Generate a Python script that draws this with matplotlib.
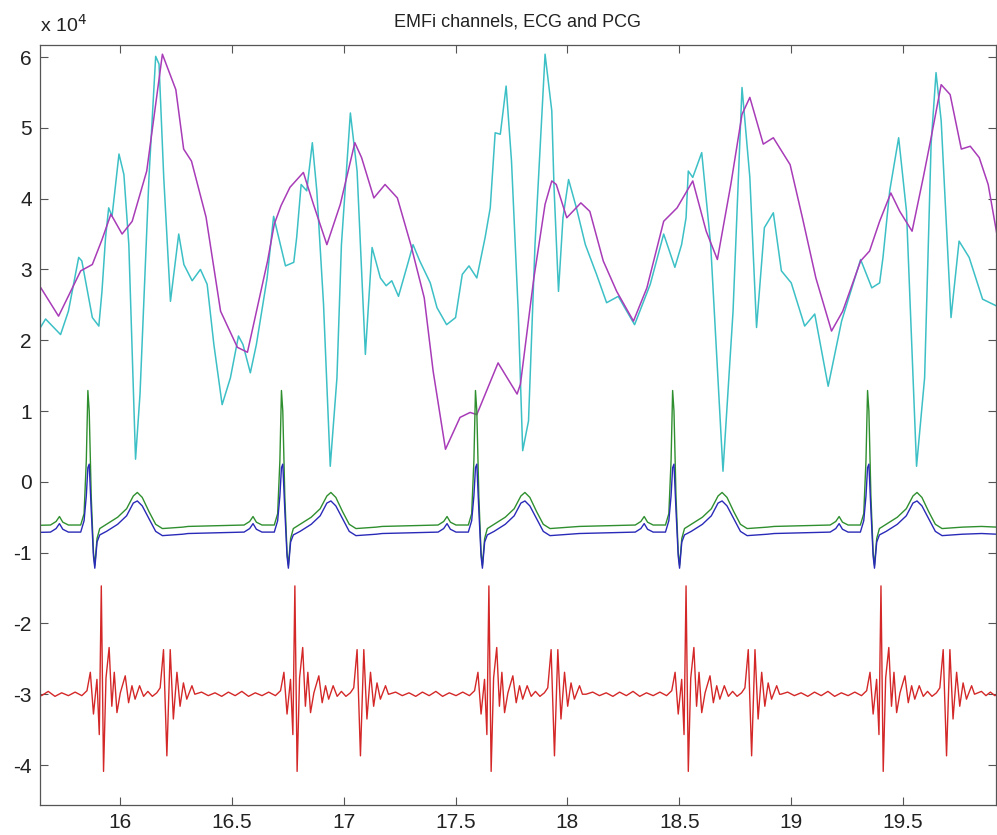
import numpy as np
import matplotlib
matplotlib.use("Agg")
import matplotlib.pyplot as plt
from matplotlib.ticker import FormatStrFormatter

plt.rcParams['font.family'] = ['Liberation Sans', 'DejaVu Sans']
plt.rcParams['axes.unicode_minus'] = False

# EMFi channel 1 (cyan), values in units of 1e4
emfi1_t = [15.645, 15.668, 15.735, 15.77, 15.816, 15.83, 15.877, 15.906, 15.92, 15.936,
           15.95, 15.965, 15.996, 16.018, 16.04, 16.07, 16.09, 16.13, 16.16, 16.175,
           16.196, 16.226, 16.263, 16.286, 16.323, 16.36, 16.39, 16.42, 16.457, 16.494,
           16.53, 16.55, 16.583, 16.61, 16.658, 16.687, 16.717, 16.74, 16.777, 16.79,
           16.81, 16.835, 16.86, 16.88, 16.91, 16.94, 16.97, 16.99, 17.03, 17.06,
           17.097, 17.127, 17.164, 17.19, 17.215, 17.245, 17.29, 17.31, 17.34, 17.387,
           17.417, 17.46, 17.50, 17.53, 17.56, 17.595, 17.632, 17.655, 17.677, 17.70,
           17.726, 17.75, 17.78, 17.80, 17.826, 17.855, 17.90, 17.93, 17.94, 17.96,
           17.98, 18.005, 18.04, 18.08, 18.13, 18.175, 18.227, 18.265, 18.30, 18.37,
           18.43, 18.48, 18.51, 18.53, 18.54, 18.56, 18.60, 18.64, 18.695, 18.74,
           18.78, 18.815, 18.845, 18.88, 18.92, 18.956, 19.00, 19.06, 19.105, 19.165,
           19.225, 19.31, 19.36, 19.395, 19.41, 19.44, 19.48, 19.515, 19.56, 19.596,
           19.625, 19.647, 19.67, 19.714, 19.75, 19.795, 19.855, 19.92]
emfi1_v = [2.18, 2.30, 2.08, 2.41, 3.17, 3.12, 2.32, 2.20, 2.69, 3.45,
           3.87, 3.75, 4.63, 4.34, 3.35, 0.32, 1.24, 4.30, 6.01, 5.90,
           4.30, 2.55, 3.50, 3.07, 2.84, 3.00, 2.79, 1.94, 1.09, 1.47,
           2.06, 1.94, 1.54, 1.94, 2.88, 3.75, 3.35, 3.05, 3.10, 3.45,
           4.20, 4.11, 4.79, 4.11, 2.51, 0.22, 1.47, 3.35, 5.21, 4.39,
           1.80, 3.31, 2.88, 2.77, 2.84, 2.62, 3.12, 3.35, 3.12, 2.81,
           2.46, 2.22, 2.32, 2.93, 3.05, 2.88, 3.45, 3.87, 4.93, 4.91,
           5.59, 4.53, 2.41, 0.44, 0.86, 3.35, 6.04, 5.24, 4.16, 2.69,
           3.73, 4.27, 3.87, 3.35, 2.93, 2.53, 2.62, 2.41, 2.22, 2.79,
           3.50, 3.03, 3.35, 3.73, 4.39, 4.30, 4.65, 3.35, 0.15, 2.41,
           5.57, 4.30, 2.18, 3.59, 3.80, 2.98, 2.81, 2.20, 2.37, 1.35,
           2.27, 3.14, 2.74, 2.81, 3.17, 4.11, 4.86, 3.82, 0.22, 1.47,
           4.77, 5.78, 5.10, 2.32, 3.40, 3.17, 2.58, 2.48]

# EMFi channel 2 (magenta)
emfi2_t = [15.645, 15.726, 15.825, 15.877, 15.92, 15.96, 16.01, 16.055, 16.12, 16.19,
           16.25, 16.285, 16.32, 16.385, 16.45, 16.525, 16.57, 16.66, 16.69, 16.72,
           16.76, 16.82, 16.865, 16.925, 16.985, 17.05, 17.08, 17.135, 17.185, 17.24,
           17.30, 17.36, 17.40, 17.455, 17.52, 17.565, 17.595, 17.69, 17.775, 17.79,
           17.835, 17.85, 17.90, 17.93, 17.95, 17.997, 18.06, 18.10, 18.16, 18.22,
           18.295, 18.355, 18.43, 18.49, 18.56, 18.62, 18.67, 18.73, 18.78, 18.815,
           18.875, 18.92, 18.995, 19.05, 19.11, 19.18, 19.23, 19.31, 19.35, 19.395,
           19.445, 19.485, 19.54, 19.59, 19.625, 19.67, 19.71, 19.76, 19.80, 19.84,
           19.88, 19.92]
emfi2_v = [2.75, 2.34, 2.98, 3.07, 3.42, 3.78, 3.50, 3.68, 4.39, 6.04,
           5.54, 4.70, 4.53, 3.74, 2.41, 1.90, 1.83, 3.12, 3.64, 3.90,
           4.16, 4.37, 3.92, 3.35, 3.92, 4.79, 4.58, 4.01, 4.20, 4.01,
           3.35, 2.60, 1.56, 0.46, 0.91, 0.98, 0.95, 1.68, 1.24, 1.38,
           2.51, 2.88, 3.92, 4.25, 4.20, 3.73, 3.94, 3.82, 3.12, 2.69,
           2.27, 2.74, 3.68, 3.87, 4.25, 3.54, 3.14, 4.20, 5.19, 5.43,
           4.77, 4.86, 4.48, 3.73, 2.88, 2.13, 2.41, 3.12, 3.26, 3.68,
           4.08, 3.82, 3.54, 4.30, 4.86, 5.61, 5.47, 4.70, 4.74, 4.58,
           4.20, 3.48]

# R-peak times of the ECG
r_times = [15.86, 16.725, 17.592, 18.473, 19.344]

# one ECG beat: time from R peak, lead 1 (green), lead 2 (blue)
ecg_dt = [-0.42, -0.30, -0.17, -0.145, -0.13, -0.115, -0.09, -0.035, -0.02, -0.01,
          -0.003, 0.003, 0.012, 0.022, 0.028, 0.038, 0.05, 0.08, 0.13, 0.17,
          0.20, 0.218, 0.24, 0.27, 0.30, 0.33, 0.42]
ecg1_v = [-0.63, -0.62, -0.61, -0.56, -0.49, -0.57, -0.61, -0.61, -0.45, 0.30,
          1.29, 1.00, -0.20, -1.00, -1.18, -0.80, -0.66, -0.60, -0.50, -0.38,
          -0.20, -0.15, -0.22, -0.42, -0.60, -0.66, -0.64]
ecg2_v = [-0.73, -0.72, -0.71, -0.66, -0.59, -0.67, -0.71, -0.71, -0.55, -0.20,
          0.20, 0.25, -0.40, -1.05, -1.22, -0.85, -0.75, -0.70, -0.60, -0.48,
          -0.30, -0.27, -0.34, -0.52, -0.70, -0.76, -0.74]
# flat stretch after the last beat, up to the right edge
ecg_tail_t = [19.85, 19.92]
ecg1_tail = [-0.63, -0.64]
ecg2_tail = [-0.73, -0.74]

# one PCG beat: time from R peak, value
pcg_dt = [-0.39, -0.36, -0.33, -0.30, -0.27, -0.24, -0.21, -0.18, -0.15, -0.12,
          -0.09, -0.06, -0.03, -0.007, 0.008, 0.022, 0.0375, 0.048, 0.057, 0.067,
          0.078, 0.092, 0.104, 0.115, 0.127, 0.142, 0.164, 0.179, 0.194, 0.208,
          0.228, 0.246, 0.265, 0.285, 0.305, 0.32, 0.335, 0.35, 0.365, 0.379,
          0.395, 0.409, 0.424, 0.439, 0.462, 0.475]
pcg_v = [-3.00, -2.97, -3.02, -2.98, -3.03, -2.97, -3.02, -2.96, -3.03, -2.98,
         -3.02, -2.97, -3.02, -2.95, -2.69, -3.28, -2.79, -3.57, -1.47, -4.09,
         -2.77, -2.34, -3.17, -2.69, -3.26, -2.98, -2.74, -3.12, -2.88, -3.07,
         -2.88, -3.03, -2.96, -3.03, -2.98, -2.91, -2.37, -3.87, -2.37, -3.35,
         -2.69, -3.17, -2.84, -3.07, -2.88, -3.00]
pcg_tail_t = [19.85, 19.87, 19.89, 19.91, 19.92]
pcg_tail = [-2.96, -3.02, -2.97, -3.02, -3.00]


def place_beats(dt, values, tail_t, tail_v):
    t_all, v_all = [], []
    for r in r_times:
        t_all.extend(r + np.asarray(dt))
        v_all.extend(values)
    t_all.extend(tail_t)
    v_all.extend(tail_v)
    return np.asarray(t_all), np.asarray(v_all)


ecg1_t, ecg1_y = place_beats(ecg_dt, ecg1_v, ecg_tail_t, ecg1_tail)
ecg2_t, ecg2_y = place_beats(ecg_dt, ecg2_v, ecg_tail_t, ecg2_tail)
pcg_t, pcg_y = place_beats(pcg_dt, pcg_v, pcg_tail_t, pcg_tail)

fig = plt.figure(figsize=(9.97, 8.35), dpi=100)
ax = fig.add_axes([0.0401, 0.0359, 0.9589, 0.9102])

ax.plot(emfi1_t, emfi1_v, color='#3cc0c6', lw=1.1)
ax.plot(emfi2_t, emfi2_v, color='#a83cb8', lw=1.1)
ax.plot(ecg1_t, ecg1_y, color='#2f8f2f', lw=1.0)
ax.plot(ecg2_t, ecg2_y, color='#2a2ab8', lw=1.0)
ax.plot(pcg_t, pcg_y, color='#d42828', lw=1.0)

ax.set_xlim(15.643, 19.915)
ax.set_ylim(-4.565, 6.17)
ax.set_xticks([16, 16.5, 17, 17.5, 18, 18.5, 19, 19.5])
ax.set_yticks(range(-4, 7))
ax.xaxis.set_major_formatter(FormatStrFormatter('%g'))
ax.tick_params(direction='in', length=6, width=0.8, top=True, right=True,
               labelsize=15, colors='#555555', labelcolor='#222222', pad=6)
for s in ax.spines.values():
    s.set_color('#555555')
    s.set_linewidth(0.9)

ax.set_title("EMFi channels, ECG and PCG", fontsize=13, pad=13, color='#222222')
ax.text(0.0, 1.012, r"x 10$^4$", transform=ax.transAxes, ha='left', va='bottom',
        fontsize=14, color='#222222')

fig.savefig("out.png", dpi=100)
